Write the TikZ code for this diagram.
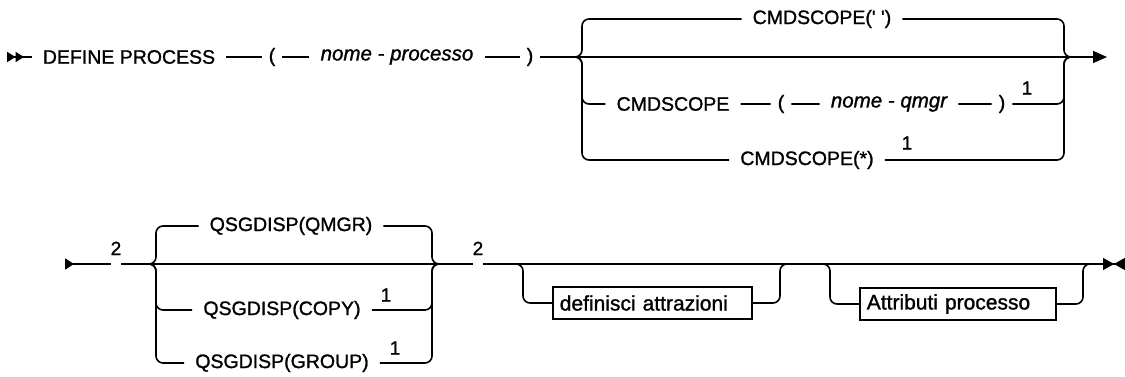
\documentclass[tikz,border=0pt]{standalone}
\usepackage{fontspec}
\setmainfont{Liberation Sans}[FakeBold=1.2]
\usetikzlibrary{arrows.meta,calc}
\tikzset{
  rail/.style={line width=1.6pt, rounded corners=7pt},
  kw/.style={font=\fontsize{19.5}{22}\selectfont, inner xsep=11pt, inner ysep=0pt},
  var/.style={kw, font=\fontsize{20.5}{22}\selectfont\itshape},
  par/.style={kw, inner xsep=7pt},
  note/.style={font=\fontsize{19}{20}\selectfont, inner sep=0pt},
  refbox/.style={draw, line width=1.6pt, font=\fontsize{21}{22}\selectfont, text width=#1, align=left, inner xsep=7pt, inner ysep=0pt, minimum height=32pt, anchor=west}
}

\begin{document}
\begin{tikzpicture}[x=1pt, y=-1pt]
  \useasboundingbox (0,0) rectangle (1125,377);
  % first line
  \coordinate (s1) at (7,57);
  \node[kw] (dp) at (129,57) {DEFINE PROCESS};
  \node[par] (lp1) at (272,57) {(};
  \node[var] (np) at (397,57) {nome - processo};
  \node[par] (rp1) at (530,57) {)};
  \coordinate (c1l) at (575,57);
  \coordinate (c1r) at (1071,57);
  \coordinate (c1a) at (582,0);
  \coordinate (c1b) at (1064,0);
  \coordinate (e1) at (1107,57);
  \node[kw] (cs0) at (822,19) {CMDSCOPE(\textquotesingle\ \textquotesingle)};
  \node[kw] (cs1) at (673,104) {CMDSCOPE};
  \node[par] (lp2) at (781,104) {(};
  \node[var] (nq) at (889,104) {nome - qmgr};
  \node[par] (rp2) at (1002,104) {)};
  \node[note] (n1a) at (1027,88) {1};
  \node[kw] (cs2) at (807,160) {CMDSCOPE(*)};
  \node[note] (n1b) at (907,143) {1};
  \draw[rail, {Triangle[reversed,length=8.5pt,width=10pt]Triangle[reversed,length=8.5pt,width=10pt]}-] (s1) -- (dp);
  \draw[rail] (dp) -- (lp1) -- (np) -- (rp1);
  \draw[rail, -{Triangle[length=14pt,width=12pt]}] (rp1) -- (e1);
  \draw[rail] (c1l) -| (cs0 -| c1a) -- (cs0) -- (cs0 -| c1b) |- (c1r);
  \draw[rail] (c1l) -| (cs1 -| c1a) -- (cs1) -- (lp2) -- (nq) -- (rp2) -- (rp2 -| c1b) |- (c1r);
  \draw[rail] (c1l) -| (cs2 -| c1a) -- (cs2) -- (cs2 -| c1b) |- (c1r);
  % second line
  \coordinate (s2) at (65,264);
  \node[note, anchor=base] (fn1) at (116,255) {2};
  \coordinate (c2l) at (150,264);
  \coordinate (c2r) at (442,264);
  \coordinate (c2a) at (156,0);
  \coordinate (c2b) at (432,0);
  \node[kw] (qm) at (291,226) {QSGDISP(QMGR)};
  \node[kw] (qc) at (282,310) {QSGDISP(COPY)};
  \node[note] (n1c) at (386,295) {1};
  \node[kw] (qg) at (282,363) {QSGDISP(GROUP)};
  \node[note] (n1d) at (395,348) {1};
  \node[note, anchor=base] (fn2) at (478,255) {2};
  \node[refbox=185pt] (da) at (552,303) {definisci attrazioni};
  \node[refbox=182pt] (ap) at (859,304) {Attributi processo};
  \coordinate (o1s) at (514,264);
  \coordinate (o1e) at (788,264);
  \coordinate (o1a) at (523,0);
  \coordinate (o1b) at (780,0);
  \coordinate (o2s) at (821,264);
  \coordinate (o2e) at (1093,264);
  \coordinate (o2a) at (830,0);
  \coordinate (o2b) at (1083,0);
  \coordinate (e2) at (1125,264);
  \draw[rail, {Triangle[reversed,length=9pt,width=11pt]}-] (s2) -- (fn1.west |- s2);
  \draw[rail] (fn1.east |- s2) -- (fn2.west |- s2);
  \draw[rail] (c2l) -| (qm -| c2a) -- (qm) -- (qm -| c2b) |- (c2r);
  \draw[rail] (c2l) -| (qc -| c2a) -- (qc) -- (qc -| c2b) |- (c2r);
  \draw[rail] (c2l) -| (qg -| c2a) -- (qg) -- (qg -| c2b) |- (c2r);
  \draw[rail, -{Triangle[length=11pt,width=12pt]Triangle[reversed,length=11pt,width=12pt]}] (fn2.east |- s2) -- (e2);
  \draw[rail] (o1s) -| (da -| o1a) -- (da);
  \draw[rail] (da) -- (da -| o1b) |- (o1e);
  \draw[rail] (o2s) -| (ap -| o2a) -- (ap);
  \draw[rail] (ap) -- (ap -| o2b) |- (o2e);
\end{tikzpicture}
\end{document}
